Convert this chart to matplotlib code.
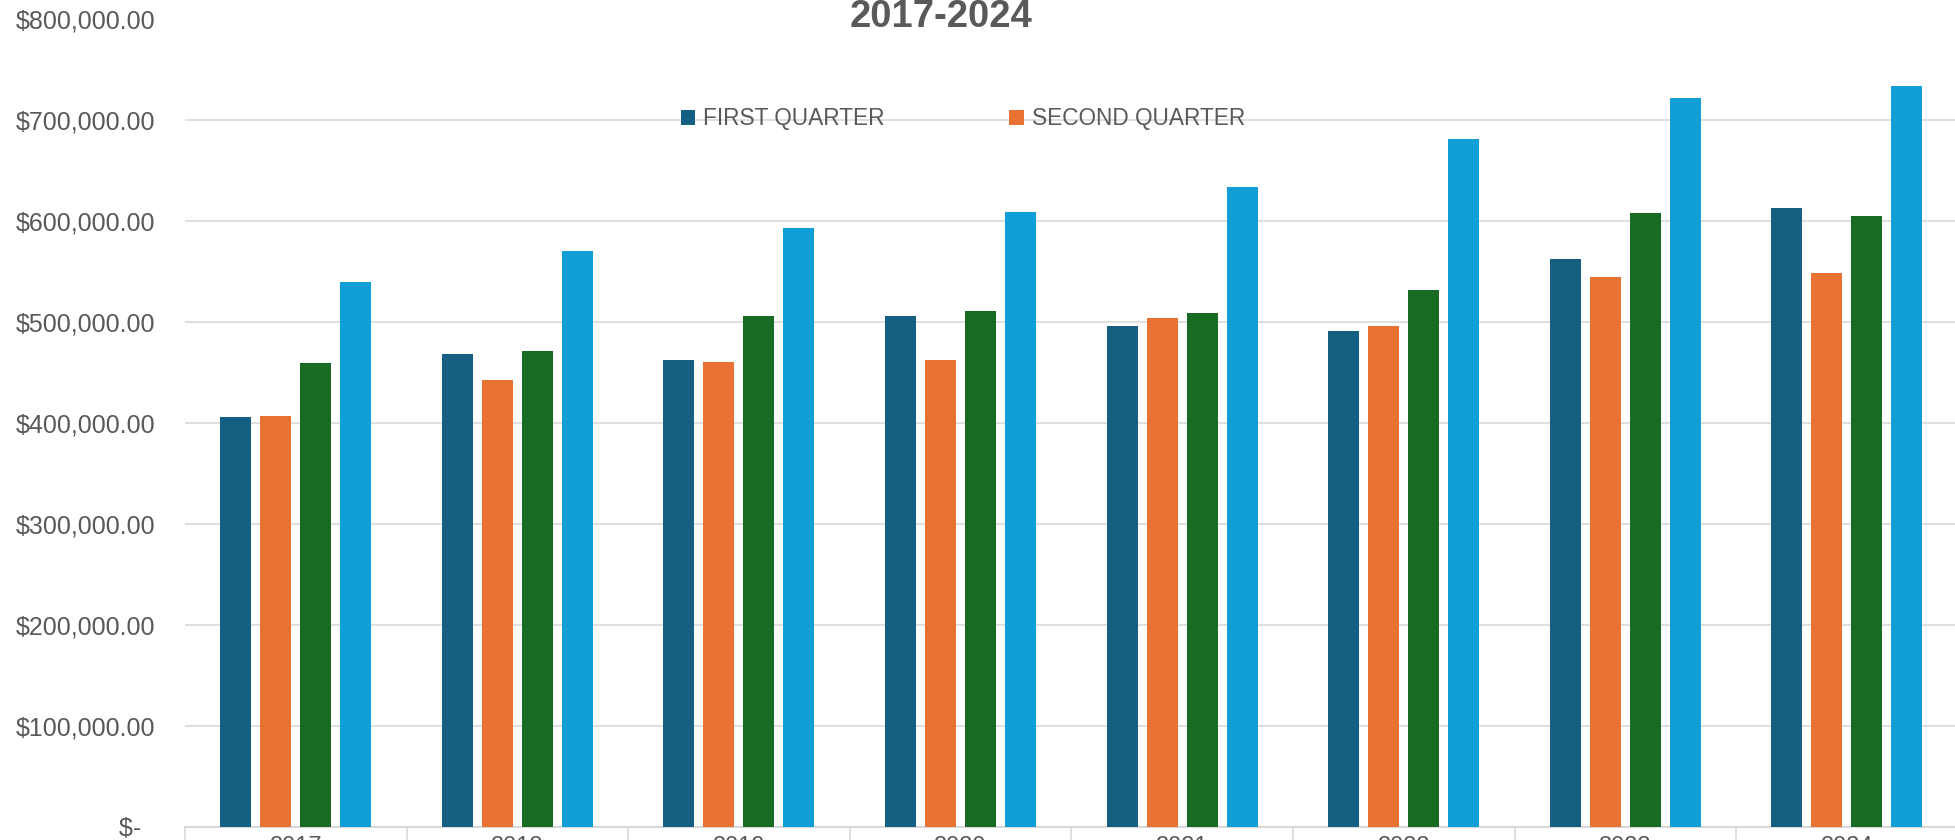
import matplotlib
matplotlib.use("Agg")
import matplotlib.pyplot as plt
from matplotlib.patches import Patch
import numpy as np

plt.rcParams['font.family'] = ['Liberation Sans', 'DejaVu Sans']

years = ["2017", "2018", "2019", "2020", "2021", "2022", "2023", "2024"]
first_quarter = [405700, 468200, 462800, 505800, 496500, 491600, 562600, 613200]
second_quarter = [407300, 442700, 460600, 462200, 504200, 495900, 545100, 549100]
third_quarter = [459600, 471800, 506400, 511100, 509100, 531900, 608200, 605000]
fourth_quarter = [540000, 570600, 593400, 608900, 634300, 681600, 722200, 733800]
series_names = ["FIRST QUARTER", "SECOND QUARTER", "THIRD QUARTER", "FOURTH QUARTER"]
colors = ["#156082", "#E97132", "#196B24", "#0F9ED5"]
title = "2017-2024"
yticks = [0, 100000, 200000, 300000, 400000, 500000, 600000, 700000, 800000]

W, H = 1956, 840
fig = plt.figure(figsize=(W / 100, H / 100), dpi=100)
left_px, right_px = 185, 185 + 8 * 221.6
top_px, bottom_px = 19.5, 826.7
ax = fig.add_axes([left_px / W, 1 - bottom_px / H, (right_px - left_px) / W, (bottom_px - top_px) / H])

x = np.arange(len(years))
slot = 40 / 221.6
bw = 31 / 221.6
all_series = [first_quarter, second_quarter, third_quarter, fourth_quarter]
for i, (vals, c, name) in enumerate(zip(all_series, colors, series_names)):
    ax.bar(x + (i - 1.5) * slot, vals, width=bw, color=c, label=name, zorder=3)

ax.set_xlim(-0.5, len(years) - 0.5)
ax.set_ylim(0, 800000)

grid_c = "#d9d9d9"
ax.set_yticks(yticks)
ax.yaxis.grid(True, color=grid_c, linewidth=1.2, zorder=0)
ax.set_axisbelow(True)

def fmt(v):
    if v == 0:
        return "$-  "
    return "${:,.2f}".format(v)

ax.set_yticklabels([fmt(v) for v in yticks])
ax.tick_params(axis='y', length=0, pad=21.5, labelsize=18, labelcolor="#595959")

for s in ["left", "right", "top"]:
    ax.spines[s].set_visible(False)
ax.spines["bottom"].set_color(grid_c)
ax.spines["bottom"].set_linewidth(1.5)

ax.set_xticks(x)
ax.set_xticklabels(years)
ax.set_xticks(np.arange(-0.5, len(years), 1.0), minor=True)
ax.tick_params(axis='x', which='major', length=0, pad=7, labelsize=17, labelcolor="#595959")
ax.tick_params(axis='x', which='minor', length=20, width=1.2, color=grid_c, direction='out')

fig.text(941 / W, 1 - 26.7 / H, title, ha='center', va='baseline', fontsize=27.5,
         fontweight='bold', color="#595959")

handles = [Patch(facecolor=colors[0]), Patch(facecolor=colors[1])]
leg = fig.legend(handles, series_names[:2], loc='center left',
                 bbox_to_anchor=(681 / W, 1 - 119 / H), ncol=2, frameon=False,
                 fontsize=16.3, borderpad=0, borderaxespad=0,
                 handlelength=0.63, handleheight=0.63, handletextpad=0.36,
                 columnspacing=5.5)
for t in leg.get_texts():
    t.set_color("#595959")

fig.savefig("out.png", dpi=100)
